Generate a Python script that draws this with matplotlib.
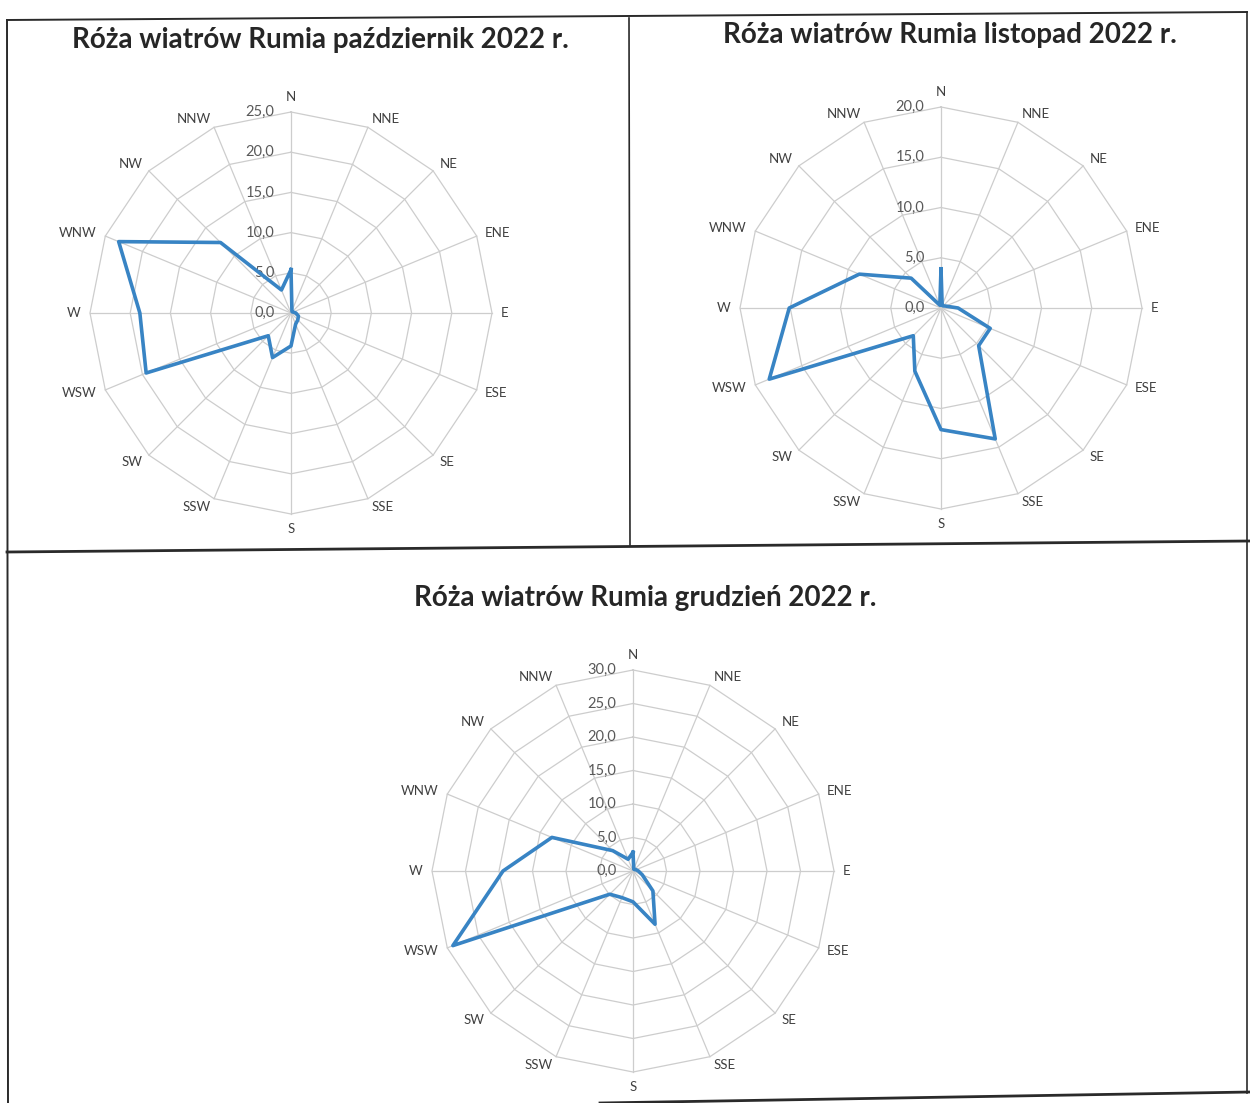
import matplotlib
matplotlib.use("Agg")
import matplotlib.pyplot as plt
from matplotlib.lines import Line2D
import numpy as np

# kierunki wiatru (16 sektorów)
directions = ['N', 'NNE', 'NE', 'ENE', 'E', 'ESE', 'SE', 'SSE',
              'S', 'SSW', 'SW', 'WSW', 'W', 'WNW', 'NW', 'NNW']

# częstości [%]
pazdziernik = [5.4, 0.3, 0.2, 0.3, 0.6, 1.0, 1.2, 1.5, 4.1, 6.0, 4.0, 19.5, 18.8, 23.2, 12.4, 3.1]
listopad    = [3.9, 0.3, 0.3, 0.5, 1.7, 5.3, 5.3, 14.1, 12.1, 6.8, 3.9, 18.5, 15.1, 8.8, 4.2, 0.3]
grudzien    = [2.8, 0.3, 0.3, 0.5, 0.8, 1.5, 4.2, 8.6, 4.6, 4.3, 4.9, 29.1, 19.4, 13.1, 4.3, 1.9]

titles = ["Róża wiatrów Rumia październik 2022 r.",
          "Róża wiatrów Rumia listopad 2022 r.",
          "Róża wiatrów Rumia grudzień 2022 r."]

W, H = 1250, 1103
FONT = ['Lato', 'DejaVu Sans']
GRID = '#cdcdcd'
BLUE = '#3884c4'

fig = plt.figure(figsize=(W / 100, H / 100), dpi=100)
fig.patch.set_facecolor('white')


def px(x, y):
    """piksele obrazu -> współrzędne figury"""
    return x / W, 1 - y / H


def rose(cx, cy, values, rmax, step, rad=201):
    x0, y0 = px(cx - rad, cy + rad)
    ax = fig.add_axes([x0, y0, 2 * rad / W, 2 * rad / H], projection='polar')
    ax.set_theta_zero_location('N')
    ax.set_theta_direction(-1)
    ax.set_ylim(0, rmax)
    ax.axis('off')

    ang = np.arange(len(directions)) * 2 * np.pi / len(directions)
    closed = np.append(ang, ang[0])

    # wielokątne linie siatki jak w Excelu
    for lev in np.arange(step, rmax + step / 2, step):
        ax.plot(closed, [lev] * len(closed), color=GRID, lw=0.9, clip_on=False)
    for a in ang:
        ax.plot([a, a], [0, rmax], color=GRID, lw=0.9, clip_on=False)

    ax.plot(closed, np.append(values, values[0]), color=BLUE, lw=2.6,
            clip_on=False, zorder=5)

    # etykiety kierunków - dosunięte krawędzią do końca osi
    for a, d in zip(ang, directions):
        s, c = np.sin(a), np.cos(a)
        ha = 'left' if s > 0.1 else ('right' if s < -0.1 else 'center')
        va = 'bottom' if c > 0.95 else ('top' if c < -0.95 else 'center')
        ax.text(a, rmax * 1.045, d, ha=ha, va=va, fontsize=9.5,
                color='#404040', family=FONT)
    for lev in np.arange(0, rmax + step / 2, step):
        ax.annotate(f"{lev:.1f}".replace('.', ','), xy=(0, lev), xytext=(-12, 0),
                    textcoords='offset points', ha='right', va='center',
                    fontsize=10.5, color='#595959', family=FONT)
    return ax


rose(291, 313, pazdziernik, 25, 5)
rose(941, 308, listopad, 20, 5)
rose(633, 871, grudzien, 30, 5)

fig.text(*px(320, 40), titles[0], ha='center', va='center', fontsize=20,
         fontweight='bold', color='#262626', family=FONT)
fig.text(*px(950, 35), titles[1], ha='center', va='center', fontsize=20,
         fontweight='bold', color='#262626', family=FONT)
fig.text(*px(645, 598), titles[2], ha='center', va='center', fontsize=20,
         fontweight='bold', color='#262626', family=FONT)

# ramki tabeli ze skanu
frame = [((7, 20), (1247, 12), 1.4),
         ((7, 20), (8, 1103), 1.4),
         ((629, 18), (630, 545), 1.2),
         ((7, 552), (1250, 541), 2.0),
         ((1247, 12), (1247, 1093), 1.2),
         ((600, 1103), (1250, 1092), 2.0)]
for (xa, ya), (xb, yb), lw in frame:
    (fa, ga), (fb, gb) = px(xa, ya), px(xb, yb)
    fig.add_artist(Line2D([fa, fb], [ga, gb], color='#2a2a2a', lw=lw,
                          transform=fig.transFigure))

fig.savefig('out.png', dpi=100)
